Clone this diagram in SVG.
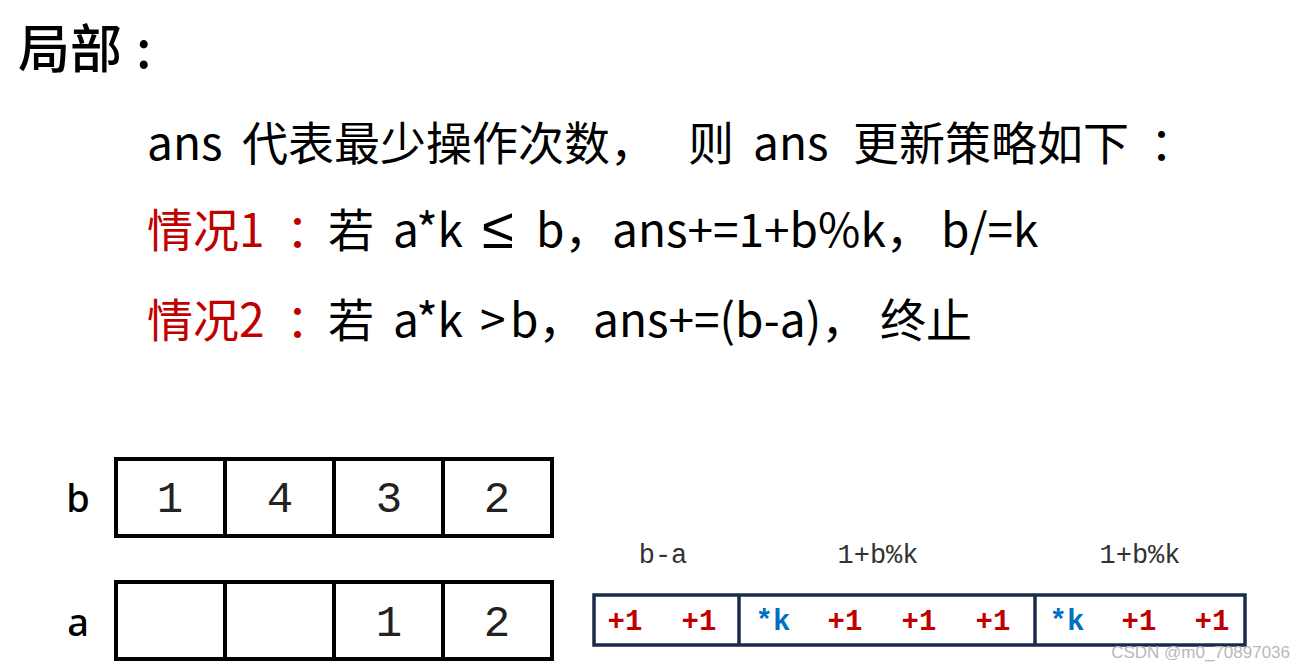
<svg xmlns="http://www.w3.org/2000/svg" width="1304" height="670" viewBox="0 0 1304 670">
<style>
.t{font-family:"Noto Sans CJK SC","Noto Sans",sans-serif;font-size:46px;fill:#000}
.r{fill:#C00000}
.cell{fill:none;stroke:#000;stroke-width:4}
.num{font-family:"Liberation Mono",monospace;font-size:44px;fill:#222;text-anchor:middle}
.lbl{font-family:"Noto Sans",sans-serif;font-size:38px;font-weight:500;text-anchor:middle;fill:#000}
.box{fill:none;stroke:#1B2A4A;stroke-width:3.5}
.cap{font-family:"Liberation Mono",monospace;font-size:27px;fill:#333;text-anchor:middle}
.op{font-family:"Liberation Mono",monospace;font-size:29px;font-weight:bold;text-anchor:middle;fill:#C00000}
.k{fill:#0070C0}
</style>
<rect width="1304" height="670" fill="#fff"/>
<g id="title" font-family="Noto Sans CJK SC,sans-serif" font-size="52" font-weight="500"><text x="18" y="68">局部</text><text x="136" y="68">:</text></g>
<g id="line1">
<text class="t" x="147" y="160">ans</text>
<text class="t" x="242" y="160">代表最少操作次数，</text>
<text class="t" x="688" y="160">则</text>
<text class="t" x="753" y="160">ans</text>
<text class="t" x="853" y="160">更新策略如下</text>
<text class="t" x="1150" y="160">：</text>
</g>
<g id="line2">
<text class="t r" x="147" y="247">情况1</text>
<text class="t r" x="286" y="247">：</text>
<text class="t" x="328" y="247">若</text>
<text class="t" x="393" y="247">a*k</text>
<text x="482" y="248" font-family="Noto Sans,sans-serif" font-size="58">≤</text>
<text class="t" x="536" y="247">b，</text>
<text class="t" x="612" y="247">ans+=1+b%k，</text>
<text class="t" x="941" y="247">b/=k</text>
</g>
<g id="line3">
<text class="t r" x="147" y="337">情况2</text>
<text class="t r" x="286" y="337">：</text>
<text class="t" x="328" y="337">若</text>
<text class="t" x="393" y="337">a*k</text>
<text class="t" x="480" y="337">&gt;</text>
<text class="t" x="510" y="337">b，</text>
<text class="t" x="593" y="337">ans+=(b-a)，</text>
<text class="t" x="880" y="337">终止</text>
</g>
<g id="array-b">
<text class="lbl" x="78" y="512">b</text>
<rect class="cell" x="116" y="459" width="436" height="77"/>
<line class="cell" x1="225" y1="459" x2="225" y2="536"/>
<line class="cell" x1="334" y1="459" x2="334" y2="536"/>
<line class="cell" x1="443" y1="459" x2="443" y2="536"/>
<text class="num" x="170" y="512">1</text>
<text class="num" x="280" y="512">4</text>
<text class="num" x="389" y="512">3</text>
<text class="num" x="497" y="512">2</text>
</g>
<g id="array-a">
<text class="lbl" x="78" y="636">a</text>
<rect class="cell" x="116" y="582" width="436" height="77"/>
<line class="cell" x1="225" y1="582" x2="225" y2="659"/>
<line class="cell" x1="334" y1="582" x2="334" y2="659"/>
<line class="cell" x1="443" y1="582" x2="443" y2="659"/>
<text class="num" x="389" y="636">1</text>
<text class="num" x="497" y="636">2</text>
</g>
<g id="ops">
<text class="cap" x="663" y="563">b-a</text>
<text class="cap" x="878" y="563">1+b%k</text>
<text class="cap" x="1140" y="563">1+b%k</text>
<rect class="box" x="594" y="595" width="651" height="50"/>
<line class="box" x1="739" y1="595" x2="739" y2="645"/>
<line class="box" x1="1035" y1="595" x2="1035" y2="645"/>
<text class="op" x="625" y="630">+1</text>
<text class="op" x="699" y="630">+1</text>
<text class="op k" x="773" y="630">*k</text>
<text class="op" x="845" y="630">+1</text>
<text class="op" x="919" y="630">+1</text>
<text class="op" x="993" y="630">+1</text>
<text class="op k" x="1067" y="630">*k</text>
<text class="op" x="1139" y="630">+1</text>
<text class="op" x="1212" y="630">+1</text>
</g>
<text x="1290" y="658" text-anchor="end" font-family="Liberation Sans,sans-serif" font-size="17" fill="#b8b8b8">CSDN @m0_70897036</text>
</svg>
